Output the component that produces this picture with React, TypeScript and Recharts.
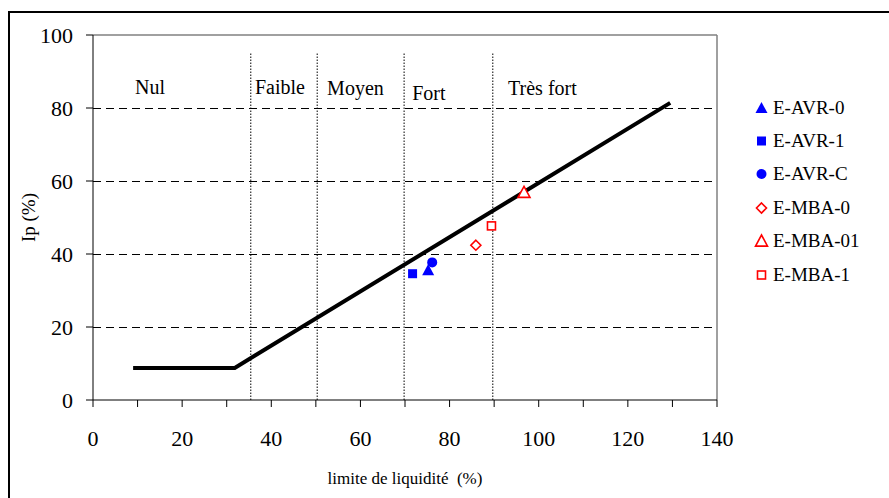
import React from "react";
import {
  ComposedChart,
  Line,
  Scatter,
  XAxis,
  YAxis,
  ReferenceLine,
  ReferenceDot,
} from "recharts";

// Ip = f(wL) boundary line
const limitLine = [
  { x: 9, y: 8.8 },
  { x: 31.8, y: 8.8 },
  { x: 129.5, y: 81.4 },
];

const avr0 = [{ x: 75.2, y: 35.6 }];
const avr1 = [{ x: 71.7, y: 34.6 }];
const avrC = [{ x: 76.1, y: 37.7 }];
const mba0 = [{ x: 85.9, y: 42.4 }];
const mba01 = [{ x: 96.7, y: 56.9 }];
const mba1 = [{ x: 89.4, y: 47.7 }];

const xTicks = [0, 10, 20, 30, 40, 50, 60, 70, 80, 90, 100, 110, 120, 130, 140];
const yTicks = [0, 20, 40, 60, 80, 100];
const gridLevels = [20, 40, 60, 80];
const zoneBounds = [35.4, 50.3, 69.8, 89.7];
const zoneTop = 95.3;
const zones = [
  { label: "Nul", x: 9.4, y: 85.8 },
  { label: "Faible", x: 36.3, y: 85.8 },
  { label: "Moyen", x: 52.5, y: 85.5 },
  { label: "Fort", x: 71.6, y: 84.2 },
  { label: "Très fort", x: 93.1, y: 85.5 },
];

const BLUE = "#0000ff";
const RED = "#ff0000";
const FONT = '"Liberation Serif", "Times New Roman", serif';

type Kind = "triUp" | "square" | "circle" | "diamond";

function Marker({ kind, cx, cy, color, open }: { kind: Kind; cx: number; cy: number; color: string; open?: boolean }) {
  const fill = open ? "#fff" : color;
  const sw = open ? 1.6 : 0;
  if (kind === "triUp") {
    const s = 6;
    return <polygon points={`${cx},${cy - s} ${cx + s},${cy + s * 0.85} ${cx - s},${cy + s * 0.85}`} fill={fill} stroke={color} strokeWidth={sw} />;
  }
  if (kind === "square") {
    const s = open ? 4 : 4.5;
    return <rect x={cx - s} y={cy - s} width={s * 2} height={s * 2} fill={fill} stroke={color} strokeWidth={sw} />;
  }
  if (kind === "circle") {
    return <circle cx={cx} cy={cy} r={5} fill={fill} stroke={color} strokeWidth={sw} />;
  }
  const s = 5;
  return <polygon points={`${cx},${cy - s} ${cx + s},${cy} ${cx},${cy + s} ${cx - s},${cy}`} fill={fill} stroke={color} strokeWidth={sw} />;
}

const seriesList = [
  { name: "E-AVR-0", data: avr0, kind: "triUp" as Kind, color: BLUE, open: false },
  { name: "E-AVR-1", data: avr1, kind: "square" as Kind, color: BLUE, open: false },
  { name: "E-AVR-C", data: avrC, kind: "circle" as Kind, color: BLUE, open: false },
  { name: "E-MBA-0", data: mba0, kind: "diamond" as Kind, color: RED, open: true },
  { name: "E-MBA-01", data: mba01, kind: "triUp" as Kind, color: RED, open: true },
  { name: "E-MBA-1", data: mba1, kind: "square" as Kind, color: RED, open: true },
];

function LegendBox() {
  return (
    <div style={{ position: "absolute", left: 752, top: 91, fontFamily: FONT, fontSize: 19, color: "#000" }}>
      {seriesList.map((s) => (
        <div key={s.name} style={{ height: 33.4, display: "flex", alignItems: "center" }}>
          <svg width={20} height={16} style={{ marginRight: 1 }}>
            <Marker kind={s.kind} cx={9.5} cy={8} color={s.color} open={s.open} />
          </svg>
          <span>{s.name}</span>
        </div>
      ))}
    </div>
  );
}

export default function App() {
  const tickStyle = { fontFamily: FONT, fontSize: 22, fill: "#000" };
  return (
    <div style={{ position: "relative", width: 889, height: 498, background: "#fff", overflow: "hidden" }}>
      <style>{`body{margin:0}`}</style>
      <div
        style={{
          position: "absolute",
          left: 8,
          top: 11,
          width: 881,
          height: 487,
          boxSizing: "border-box",
          borderLeft: "2px solid #000",
          borderTop: "2px solid #000",
        }}
      />
      <div style={{ position: "absolute", left: 0, top: 0 }}>
        <ComposedChart
          width={889}
          height={498}
          margin={{ top: 35, right: 172, bottom: 68, left: 63 }}
        >
          <XAxis
            type="number"
            dataKey="x"
            domain={[0, 140]}
            ticks={xTicks}
            interval={0}
            height={30}
            tickSize={7}
            tickMargin={23}
            stroke="#000"
            tick={tickStyle}
            tickFormatter={(v) => (Number(v) % 20 === 0 ? String(v) : "")}
            allowDataOverflow
            label={{
              value: "limite de liquidité\u00a0\u00a0(%)",
              position: "bottom",
              offset: 42,
              style: { fontFamily: FONT, fontSize: 17, fill: "#000" },
            }}
          />
          <YAxis
            type="number"
            dataKey="y"
            domain={[0, 100]}
            ticks={yTicks}
            interval={0}
            width={30}
            tickSize={7}
            tickMargin={13}
            stroke="#000"
            tick={tickStyle}
            allowDataOverflow
            label={{
              value: "Ip (%)",
              angle: -90,
              position: "center",
              dx: -50,
              style: { fontFamily: FONT, fontSize: 19, fill: "#000" },
            }}
          />
          {gridLevels.map((g) => (
            <ReferenceLine key={g} y={g} stroke="#000" strokeWidth={1} strokeDasharray="8 5" shapeRendering="crispEdges" />
          ))}
          <ReferenceLine y={100} stroke="#808080" strokeWidth={1.5} />
          <ReferenceLine x={140} stroke="#808080" strokeWidth={1.5} />
          {zoneBounds.map((b) => (
            <ReferenceLine
              key={b}
              segment={[
                { x: b, y: 0 },
                { x: b, y: zoneTop },
              ]}
              stroke="#000"
              strokeWidth={1}
              strokeDasharray="1.5 1.5"
            />
          ))}
          {zones.map((z) => (
            <ReferenceDot
              key={z.label}
              x={z.x}
              y={z.y}
              r={0.1}
              fill="none"
              stroke="none"
              label={{
                value: z.label,
                position: "right",
                offset: 0,
                style: { fontFamily: FONT, fontSize: 20, fill: "#000" },
              }}
            />
          ))}
          <Line
            data={limitLine}
            dataKey="y"
            type="linear"
            stroke="#000"
            strokeWidth={4}
            dot={false}
            activeDot={false}
            isAnimationActive={false}
          />
          {seriesList.map((s) => (
            <Scatter
              key={s.name}
              name={s.name}
              data={s.data}
              dataKey="y"
              isAnimationActive={false}
              shape={(p: any) => <Marker kind={s.kind} cx={p.cx} cy={p.cy} color={s.color} open={s.open} />}
            />
          ))}
        </ComposedChart>
      </div>
      <LegendBox />
    </div>
  );
}
